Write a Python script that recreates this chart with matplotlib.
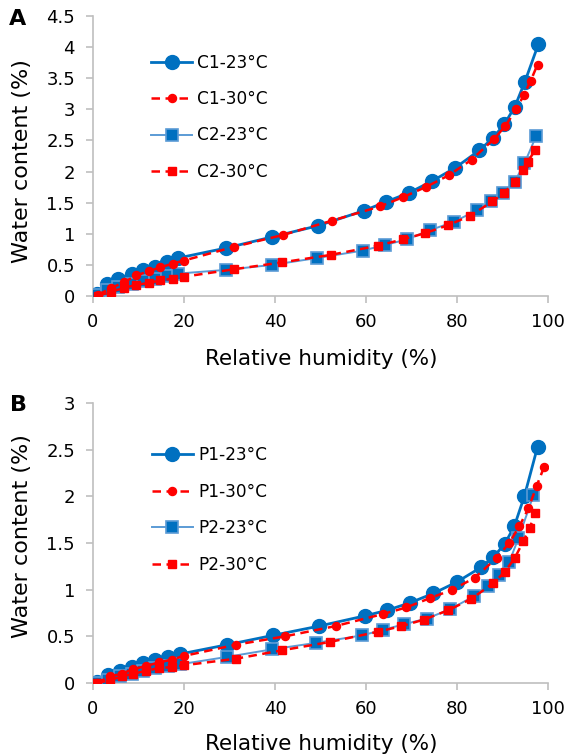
import matplotlib
matplotlib.use("Agg")
import matplotlib.pyplot as plt

plt.rcParams['font.family'] = ['DejaVu Sans']

# Panel A: C1 / C2 sorption isotherms
rh_c1_23 = [0.8, 3, 5.6, 8.5, 11, 13.6, 16.2, 18.7, 29.2, 39.4, 49.5, 59.5, 64.3, 69.5, 74.6, 79.6, 84.9, 87.9, 90.4, 92.7, 94.9, 97.9]
wc_c1_23 = [0.04, 0.2, 0.28, 0.36, 0.41, 0.47, 0.55, 0.61, 0.77, 0.95, 1.13, 1.37, 1.51, 1.66, 1.85, 2.06, 2.34, 2.54, 2.76, 3.04, 3.44, 4.05]
rh_c1_30 = [1.2, 4, 6.8, 9.5, 12.3, 14.8, 17.5, 20, 31, 41.7, 52.5, 63.1, 68.2, 73.1, 78.2, 83.2, 88.1, 90.6, 93.0, 94.7, 96.2, 97.7]
wc_c1_30 = [0.02, 0.13, 0.22, 0.33, 0.4, 0.46, 0.52, 0.57, 0.79, 0.98, 1.21, 1.44, 1.59, 1.75, 1.94, 2.19, 2.52, 2.73, 3.0, 3.23, 3.46, 3.72]
rh_c2_23 = [0.8, 3, 5.6, 8.5, 11, 13.6, 16.2, 18.7, 29.2, 39.4, 49.2, 59.3, 64.2, 69.0, 74.1, 79.3, 84.4, 87.4, 90.1, 92.7, 94.8, 97.4]
wc_c2_23 = [0.02, 0.1, 0.15, 0.2, 0.24, 0.28, 0.32, 0.36, 0.42, 0.5, 0.61, 0.73, 0.82, 0.91, 1.06, 1.19, 1.38, 1.52, 1.66, 1.84, 2.13, 2.57]
rh_c2_30 = [1.2, 4, 6.8, 9.5, 12.3, 14.8, 17.5, 20, 31, 41.5, 52.2, 62.7, 68.1, 73.0, 78.1, 82.9, 87.8, 90.4, 92.7, 94.4, 95.5, 97.2]
wc_c2_30 = [0.005, 0.07, 0.13, 0.18, 0.21, 0.25, 0.28, 0.31, 0.43, 0.54, 0.66, 0.81, 0.91, 1.01, 1.14, 1.29, 1.52, 1.66, 1.84, 2.03, 2.15, 2.35]

# Panel B: P1 / P2 sorption isotherms
rh_p1_23 = [0.8, 3.4, 5.9, 8.5, 11.0, 13.6, 16.5, 19.1, 29.5, 39.5, 49.7, 59.8, 64.7, 69.7, 74.8, 79.9, 85.3, 88.0, 90.5, 92.6, 94.8, 97.7]
wc_p1_23 = [0.01, 0.09, 0.13, 0.17, 0.21, 0.25, 0.28, 0.31, 0.41, 0.51, 0.61, 0.72, 0.78, 0.86, 0.96, 1.08, 1.24, 1.35, 1.49, 1.68, 2.0, 2.53]
rh_p1_30 = [0.9, 3.7, 6.3, 8.9, 11.6, 14.4, 17.3, 20.0, 31.4, 42.2, 53.3, 63.8, 68.9, 74.1, 79.0, 84.0, 88.7, 91.5, 93.7, 95.7, 97.5, 99.1]
wc_p1_30 = [0.0, 0.07, 0.10, 0.15, 0.18, 0.22, 0.25, 0.29, 0.41, 0.50, 0.61, 0.74, 0.81, 0.91, 1.0, 1.13, 1.34, 1.50, 1.68, 1.87, 2.11, 2.31]
rh_p2_23 = [0.8, 3.4, 5.9, 8.5, 11.0, 13.6, 16.5, 19.1, 29.5, 39.3, 49.0, 59.1, 63.8, 68.4, 73.3, 78.5, 83.7, 86.9, 89.3, 91.5, 93.5, 96.8]
wc_p2_23 = [0.0, 0.03, 0.07, 0.10, 0.13, 0.16, 0.18, 0.20, 0.28, 0.36, 0.43, 0.51, 0.57, 0.63, 0.69, 0.79, 0.93, 1.04, 1.16, 1.30, 1.55, 2.01]
rh_p2_30 = [0.9, 3.7, 6.3, 8.9, 11.6, 14.4, 17.3, 20.0, 31.4, 41.5, 52.1, 62.7, 67.8, 72.8, 78.1, 83.1, 88.0, 90.5, 92.7, 94.6, 96.0, 97.1]
wc_p2_30 = [0.0, 0.03, 0.07, 0.10, 0.13, 0.16, 0.17, 0.19, 0.26, 0.35, 0.44, 0.55, 0.61, 0.68, 0.78, 0.90, 1.07, 1.19, 1.34, 1.52, 1.66, 1.82]

BLUE = '#0070c0'
LBLUE = '#5b9bd5'
RED = '#ff0000'
GRAY = '#bfbfbf'
W, H = 570.0, 756.0


def draw(ax, data, names, ymax, ystep, leg_xy):
    (x1, y1), (x2, y2), (x3, y3), (x4, y4) = data
    ax.plot(x1, y1, '-o', color=BLUE, lw=2, ms=10, label=names[0], zorder=3)
    ax.plot(x2, y2, '--o', color=RED, lw=1.8, ms=5.8, dashes=(3.4, 2.2), label=names[1], zorder=4)
    ax.plot(x3, y3, '-s', color=LBLUE, lw=1.4, ms=9, mfc=BLUE, mec=LBLUE, mew=1.2, label=names[2], zorder=3)
    ax.plot(x4, y4, '--s', color=RED, lw=1.8, ms=5.5, dashes=(3.4, 2.2), label=names[3], zorder=4)
    ax.set_xlim(0, 100)
    ax.set_ylim(0, ymax)
    ax.set_xticks(range(0, 101, 20))
    n = int(round(ymax / ystep))
    yt = [i * ystep for i in range(n + 1)]
    ax.set_yticks(yt)
    ax.set_yticklabels(['%g' % v for v in yt])
    for s in ['top', 'right']:
        ax.spines[s].set_visible(False)
    for s in ['left', 'bottom']:
        ax.spines[s].set_color(GRAY)
        ax.spines[s].set_linewidth(1.2)
    ax.tick_params(axis='both', colors=GRAY, labelcolor='black', labelsize=13, length=5, width=1.2)
    ax.tick_params(axis='x', pad=7.5)
    ax.tick_params(axis='y', pad=8)
    ax.legend(loc='upper left', bbox_to_anchor=leg_xy, frameon=False, fontsize=12.2,
              borderpad=0, borderaxespad=0, handlelength=2.4, labelspacing=1.09,
              handletextpad=0.3)


fig = plt.figure(figsize=(5.7, 7.56), dpi=100)
axA = fig.add_axes([93 / W, 1 - 296 / H, 455 / W, 280 / H])
axB = fig.add_axes([93 / W, 1 - 683 / H, 455 / W, 280 / H])

draw(axA, [(rh_c1_23, wc_c1_23), (rh_c1_30, wc_c1_30), (rh_c2_23, wc_c2_23), (rh_c2_30, wc_c2_30)],
     ['C1-23°C', 'C1-30°C', 'C2-23°C', 'C2-30°C'], 4.5, 0.5, (0.128, 0.866))
draw(axB, [(rh_p1_23, wc_p1_23), (rh_p1_30, wc_p1_30), (rh_p2_23, wc_p2_23), (rh_p2_30, wc_p2_30)],
     ['P1-23°C', 'P1-30°C', 'P2-23°C', 'P2-30°C'], 3, 0.5, (0.13, 0.846))

# axis titles
for yb in [365, 750]:
    fig.text(321 / W, 1 - yb / H, 'Relative humidity (%)', fontsize=15.5, ha='center', va='baseline')
for yc in [161, 536]:
    fig.text(22 / W, 1 - yc / H, 'Water content (%)', fontsize=16, rotation=90, ha='center', va='center')

fig.text(18 / W, 1 - 19 / H, 'A', fontsize=16, fontweight='bold', ha='center', va='center')
fig.text(18 / W, 1 - 405 / H, 'B', fontsize=16, fontweight='bold', ha='center', va='center')

fig.savefig('out.png', dpi=100)
